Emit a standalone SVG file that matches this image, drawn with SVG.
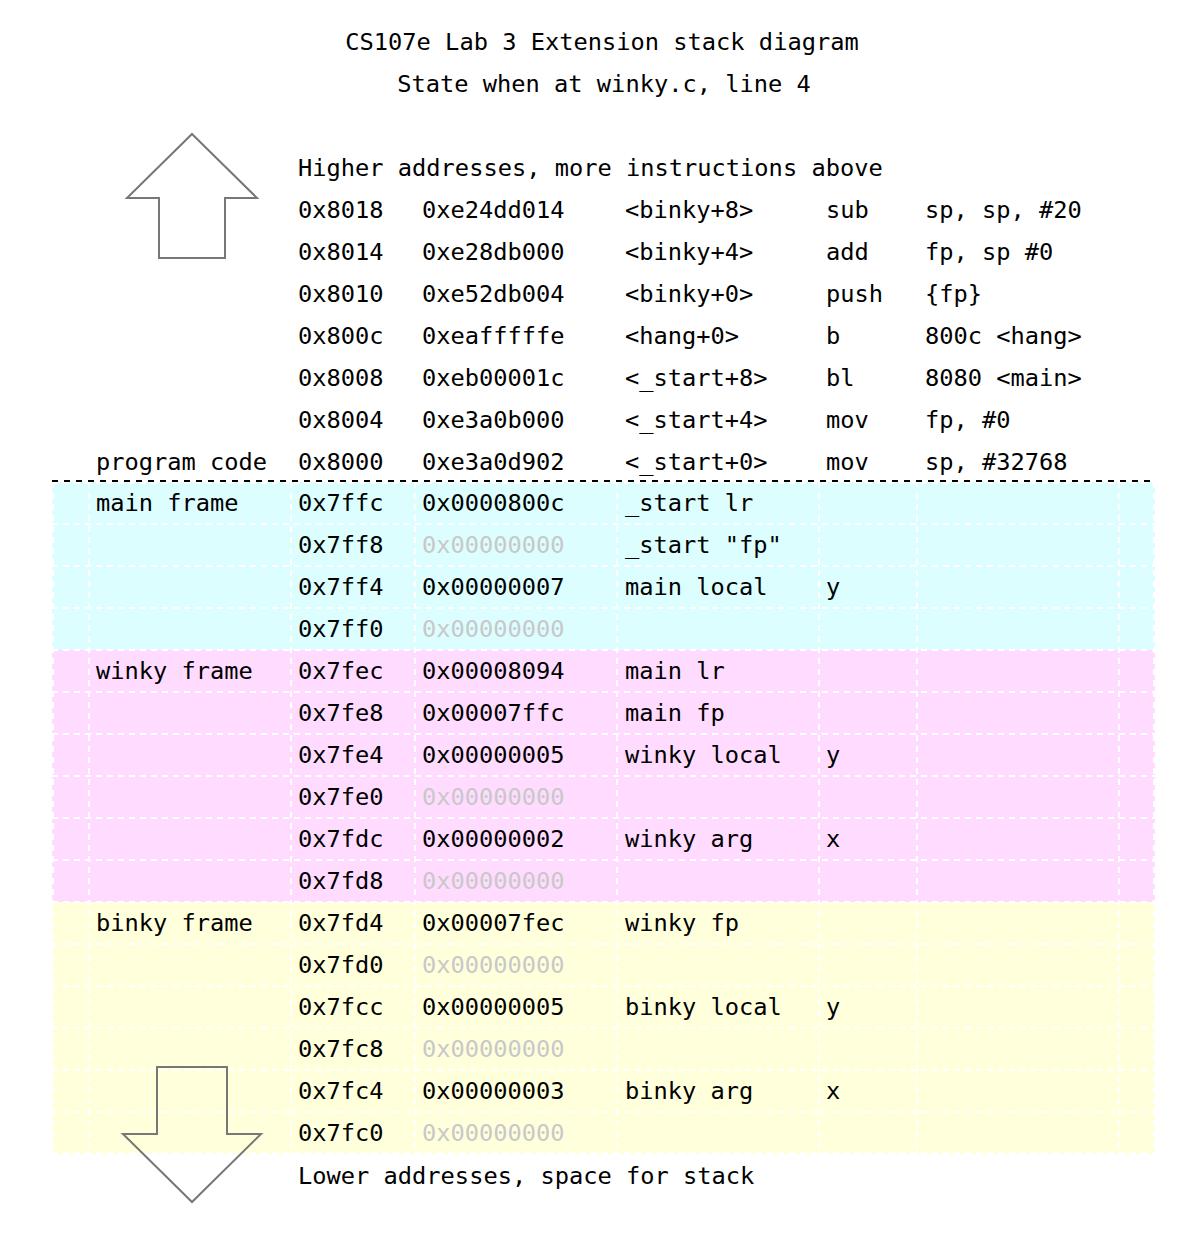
<svg xmlns="http://www.w3.org/2000/svg" width="1192" height="1240" viewBox="0 0 1192 1240">
<style>
text{font-family:"DejaVu Sans Mono","Liberation Mono",monospace;font-size:23.7px;fill:#000}
.z{fill:#c8c8c8}
.grid line{stroke:#fff;stroke-width:2;stroke-dasharray:6 5}
.arrow{fill:none;stroke:#777;stroke-width:2;stroke-linejoin:miter}
</style>
<rect width="1192" height="1240" fill="#fff"/>
<g id="frames">
<rect id="main-bg" x="52" y="482" width="1103" height="168" fill="#dcfeff"/>
<rect id="winky-bg" x="52" y="650" width="1103" height="252" fill="#ffdcff"/>
<rect id="binky-bg" x="52" y="902" width="1103" height="252" fill="#ffffdc"/>
</g>
<g class="grid">
<line x1="52" y1="483" x2="1155" y2="483"/>
<line x1="52" y1="524" x2="1155" y2="524"/>
<line x1="52" y1="566" x2="1155" y2="566"/>
<line x1="52" y1="608" x2="1155" y2="608"/>
<line x1="52" y1="650" x2="1155" y2="650"/>
<line x1="52" y1="692" x2="1155" y2="692"/>
<line x1="52" y1="734" x2="1155" y2="734"/>
<line x1="52" y1="776" x2="1155" y2="776"/>
<line x1="52" y1="818" x2="1155" y2="818"/>
<line x1="52" y1="860" x2="1155" y2="860"/>
<line x1="52" y1="902" x2="1155" y2="902"/>
<line x1="52" y1="944" x2="1155" y2="944"/>
<line x1="52" y1="986" x2="1155" y2="986"/>
<line x1="52" y1="1028" x2="1155" y2="1028"/>
<line x1="52" y1="1070" x2="1155" y2="1070"/>
<line x1="52" y1="1112" x2="1155" y2="1112"/>
<line x1="52" y1="1153" x2="1155" y2="1153"/>
<line x1="53" y1="482" x2="53" y2="1154"/>
<line x1="89" y1="482" x2="89" y2="1154"/>
<line x1="291" y1="482" x2="291" y2="1154"/>
<line x1="415" y1="482" x2="415" y2="1154"/>
<line x1="617" y1="482" x2="617" y2="1154"/>
<line x1="819" y1="482" x2="819" y2="1154"/>
<line x1="917" y1="482" x2="917" y2="1154"/>
<line x1="1119" y1="482" x2="1119" y2="1154"/>
<line x1="1154" y1="482" x2="1154" y2="1154"/>
</g>
<g id="connectors">
<line x1="52" y1="481" x2="1155" y2="481" stroke="#000" stroke-width="2" stroke-dasharray="6 6"/>
</g>
<g id="arrow-up"><polygon class="arrow" points="192,134 257,198 225,198 225,258 159,258 159,198 127,198"/></g>
<g id="arrow-down"><polygon class="arrow" points="157,1067 227,1067 227,1134 261,1134 192,1202 123,1134 157,1134"/></g>
<g id="title">
<text x="602" y="50" text-anchor="middle">CS107e Lab 3 Extension stack diagram</text>
<text x="604" y="92" text-anchor="middle">State when at winky.c, line 4</text>
</g>
<g id="code">
<text x="298" y="176">Higher addresses, more instructions above</text>
<g id="r8018"><text x="298" y="218">0x8018</text><text x="422" y="218">0xe24dd014</text><text x="625" y="218">&lt;binky+8&gt;</text><text x="826" y="218">sub</text><text x="925" y="218">sp, sp, #20</text></g>
<g id="r8014"><text x="298" y="260">0x8014</text><text x="422" y="260">0xe28db000</text><text x="625" y="260">&lt;binky+4&gt;</text><text x="826" y="260">add</text><text x="925" y="260">fp, sp #0</text></g>
<g id="r8010"><text x="298" y="302">0x8010</text><text x="422" y="302">0xe52db004</text><text x="625" y="302">&lt;binky+0&gt;</text><text x="826" y="302">push</text><text x="925" y="302">{fp}</text></g>
<g id="r800c"><text x="298" y="344">0x800c</text><text x="422" y="344">0xeafffffe</text><text x="625" y="344">&lt;hang+0&gt;</text><text x="826" y="344">b</text><text x="925" y="344">800c &lt;hang&gt;</text></g>
<g id="r8008"><text x="298" y="386">0x8008</text><text x="422" y="386">0xeb00001c</text><text x="625" y="386">&lt;_start+8&gt;</text><text x="826" y="386">bl</text><text x="925" y="386">8080 &lt;main&gt;</text></g>
<g id="r8004"><text x="298" y="428">0x8004</text><text x="422" y="428">0xe3a0b000</text><text x="625" y="428">&lt;_start+4&gt;</text><text x="826" y="428">mov</text><text x="925" y="428">fp, #0</text></g>
<g id="r8000"><text x="96" y="470">program code</text><text x="298" y="470">0x8000</text><text x="422" y="470">0xe3a0d902</text><text x="625" y="470">&lt;_start+0&gt;</text><text x="826" y="470">mov</text><text x="925" y="470">sp, #32768</text></g>
</g>
<g id="main-frame">
<text x="96" y="511">main frame</text>
<text x="298" y="511">0x7ffc</text><text x="422" y="511">0x0000800c</text><text x="625" y="511">_start lr</text>
<text x="298" y="553">0x7ff8</text><text class="z" x="422" y="553">0x00000000</text><text x="625" y="553">_start "fp"</text>
<text x="298" y="595">0x7ff4</text><text x="422" y="595">0x00000007</text><text x="625" y="595">main local</text><text x="826" y="595">y</text>
<text x="298" y="637">0x7ff0</text><text class="z" x="422" y="637">0x00000000</text>
</g>
<g id="winky-frame">
<text x="96" y="679">winky frame</text>
<text x="298" y="679">0x7fec</text><text x="422" y="679">0x00008094</text><text x="625" y="679">main lr</text>
<text x="298" y="721">0x7fe8</text><text x="422" y="721">0x00007ffc</text><text x="625" y="721">main fp</text>
<text x="298" y="763">0x7fe4</text><text x="422" y="763">0x00000005</text><text x="625" y="763">winky local</text><text x="826" y="763">y</text>
<text x="298" y="805">0x7fe0</text><text class="z" x="422" y="805">0x00000000</text>
<text x="298" y="847">0x7fdc</text><text x="422" y="847">0x00000002</text><text x="625" y="847">winky arg</text><text x="826" y="847">x</text>
<text x="298" y="889">0x7fd8</text><text class="z" x="422" y="889">0x00000000</text>
</g>
<g id="binky-frame">
<text x="96" y="931">binky frame</text>
<text x="298" y="931">0x7fd4</text><text x="422" y="931">0x00007fec</text><text x="625" y="931">winky fp</text>
<text x="298" y="973">0x7fd0</text><text class="z" x="422" y="973">0x00000000</text>
<text x="298" y="1015">0x7fcc</text><text x="422" y="1015">0x00000005</text><text x="625" y="1015">binky local</text><text x="826" y="1015">y</text>
<text x="298" y="1057">0x7fc8</text><text class="z" x="422" y="1057">0x00000000</text>
<text x="298" y="1099">0x7fc4</text><text x="422" y="1099">0x00000003</text><text x="625" y="1099">binky arg</text><text x="826" y="1099">x</text>
<text x="298" y="1141">0x7fc0</text><text class="z" x="422" y="1141">0x00000000</text>
</g>
<g id="footer"><text x="298" y="1184">Lower addresses, space for stack</text></g>
</svg>
